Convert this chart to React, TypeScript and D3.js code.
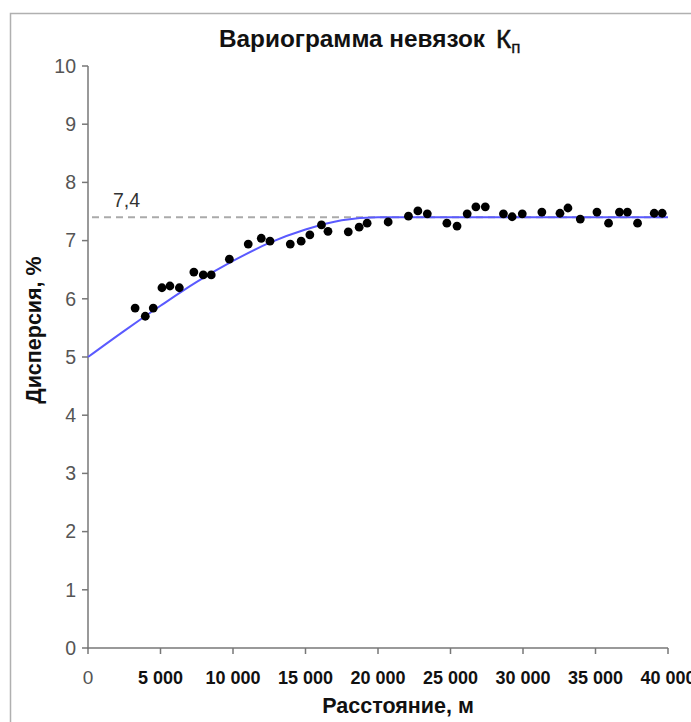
import React from "react";
import * as d3 from "d3";

const pointDistances = [3250, 3950, 4500, 5100, 5650, 6300, 7300, 7950, 8500, 9750, 11050, 11950, 12550, 13950, 14700, 15300, 16100, 16550, 17950, 18700, 19250, 20700, 22100, 22750, 23400, 24750, 25450, 26150, 26750, 27400, 28650, 29250, 29950, 31300, 32550, 33100, 33950, 35100, 35900, 36650, 37200, 37900, 39050, 39600];
const pointValues = [5.84, 5.70, 5.84, 6.19, 6.22, 6.19, 6.46, 6.41, 6.41, 6.68, 6.94, 7.04, 6.99, 6.94, 6.99, 7.10, 7.27, 7.16, 7.15, 7.23, 7.30, 7.32, 7.42, 7.51, 7.46, 7.30, 7.25, 7.46, 7.58, 7.58, 7.46, 7.41, 7.46, 7.49, 7.47, 7.56, 7.37, 7.49, 7.30, 7.49, 7.49, 7.30, 7.47, 7.47];

const modelDistances = [0, 2500, 5000, 7500, 10000, 12500, 15000, 17500, 20000, 40000];
const modelValues = [5.0, 5.45, 5.88, 6.29, 6.65, 6.96, 7.19, 7.35, 7.4, 7.4];

const sillValue = 7.4;
const sillLabel = "7,4";
const xTicks = [0, 5000, 10000, 15000, 20000, 25000, 30000, 35000, 40000];
const xTickLabels = ["0", "5 000", "10 000", "15 000", "20 000", "25 000", "30 000", "35 000", "40 000"];
const yTicks = [0, 1, 2, 3, 4, 5, 6, 7, 8, 9, 10];

const W = 691;
const H = 722;

export default function App() {
  const x = d3.scaleLinear().domain([0, 40000]).range([88, 668]);
  const y = d3.scaleLinear().domain([0, 10]).range([648, 66]);
  const line = d3
    .line<number>()
    .x((_, i) => x(modelDistances[i]))
    .y((d) => y(d))
    .curve(d3.curveMonotoneX);
  const axisColor = "#777";
  const font = "'Liberation Sans', Arial, sans-serif";
  return (
    <svg
      width={W}
      height={H}
      style={{ position: "absolute", left: 0, top: 0, background: "#fff" }}
      fontFamily={font}
    >
      <rect x={0} y={0} width={W} height={H} fill="#fff" />
      {/* frame */}
      <path d={`M10.5,${H} V13.5 H${W}`} fill="none" stroke="#b0b0b0" strokeWidth={1.5} />
      {/* title */}
      <text x={219} y={47} fontSize={23} fontWeight="bold" fill="#111" textLength={266} lengthAdjust="spacingAndGlyphs">
        Вариограмма невязок
      </text>
      <text x={496} y={48} fontSize={26} fill="#111" stroke="#111" strokeWidth={0.5}>
        К
        <tspan fontSize={17} dy={5} strokeWidth={0.3}>п</tspan>
      </text>
      {/* axes */}
      <line x1={88} x2={88} y1={y(10)} y2={y(0) + 1} stroke={axisColor} strokeWidth={1.5} />
      <line x1={87} x2={x(40000)} y1={y(0)} y2={y(0)} stroke={axisColor} strokeWidth={1.5} />
      {yTicks.map((t) => (
        <g key={"y" + t}>
          <line x1={82} x2={88} y1={y(t)} y2={y(t)} stroke={axisColor} strokeWidth={1.5} />
          <text x={76} y={y(t)} dy="0.35em" textAnchor="end" fontSize={19.5} fill="#555">
            {t}
          </text>
        </g>
      ))}
      {xTicks.map((t, i) => (
        <g key={"x" + t}>
          <line x1={x(t)} x2={x(t)} y1={y(0)} y2={y(0) + 6} stroke={axisColor} strokeWidth={1.5} />
          <text
            x={x(t)}
            y={684}
            textAnchor="middle"
            fontSize={i === 0 ? 19 : 18}
            fontWeight={i === 0 ? "normal" : "bold"}
            fill={i === 0 ? "#555" : "#111"}
          >
            {xTickLabels[i]}
          </text>
        </g>
      ))}
      <text
        transform={`translate(41,330) rotate(-90)`}
        textAnchor="middle"
        fontSize={21.5}
        fontWeight="bold"
        fill="#111"
      >
        Дисперсия, %
      </text>
      <text x={398} y={713} textAnchor="middle" fontSize={21.5} fontWeight="bold" fill="#111">
        Расстояние, м
      </text>
      {/* sill */}
      <line
        x1={92}
        x2={x(40000)}
        y1={y(sillValue)}
        y2={y(sillValue)}
        stroke="#aaa"
        strokeWidth={2}
        strokeDasharray="7 5"
      />
      <text x={113} y={207} fontSize={19.5} fill="#333">
        {sillLabel}
      </text>
      {/* model curve */}
      <path d={line(modelValues) || ""} fill="none" stroke="#5a5aff" strokeWidth={2} />
      {/* points */}
      {pointDistances.map((d, i) => (
        <circle key={"p" + i} cx={x(d)} cy={y(pointValues[i])} r={4.4} fill="#000" />
      ))}
    </svg>
  );
}
